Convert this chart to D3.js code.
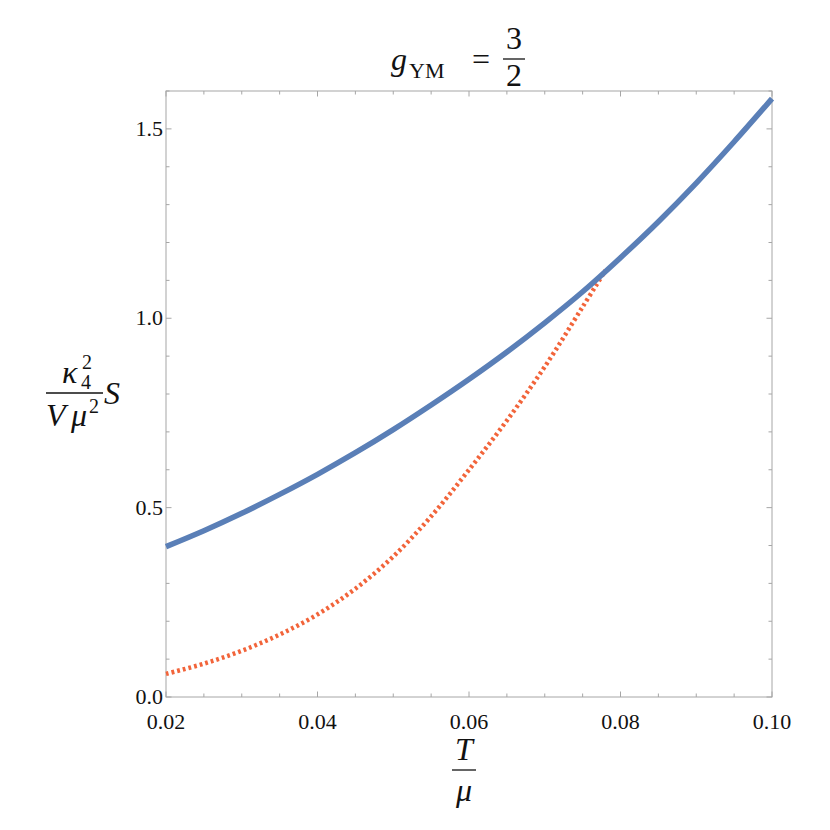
<!DOCTYPE html>
<html>
<head>
<meta charset="utf-8">
<script src="https://cdn.jsdelivr.net/npm/d3@7"></script>
<style>
  body { margin: 0; background: #fff; }
  svg text { font-family: "Liberation Serif", "Times New Roman", serif; fill: #111; }
</style>
</head>
<body>
<div class="chart-container"></div>
<script>
// T/mu values
const tBlue = [0.020, 0.025, 0.030, 0.035, 0.040, 0.045, 0.050, 0.055, 0.060,
               0.065, 0.070, 0.075, 0.080, 0.085, 0.090, 0.095, 0.100];
const sBlue = [0.397, 0.439, 0.485, 0.535, 0.588, 0.645, 0.706, 0.771, 0.839,
               0.911, 0.988, 1.070, 1.160, 1.255, 1.357, 1.466, 1.580];

const tOrange = [0.020, 0.025, 0.030, 0.035, 0.040, 0.045, 0.050, 0.055, 0.060,
                 0.065, 0.070, 0.075, 0.078];
const sOrange = [0.061, 0.088, 0.122, 0.165, 0.218, 0.286, 0.371, 0.477, 0.600,
                 0.730, 0.872, 1.030, 1.126];

const xTicks = [0.02, 0.04, 0.06, 0.08, 0.10];
const yTicks = [0.0, 0.5, 1.0, 1.5];

const width = 830, height = 830;
const pLeft = 166, pRight = 772, pTop = 91, pBottom = 697;

const svg = d3.select('.chart-container').append('svg')
    .attr('width', width)
    .attr('height', height);

const x = d3.scaleLinear().domain([0.02, 0.10]).range([pLeft, pRight]);
const y = d3.scaleLinear().domain([0, 1.6]).range([pBottom, pTop]);

const frameColor = '#a6a6a6';

// minor / major ticks, pointing inward on all four sides
const xMinor = d3.range(0.02, 0.1001, 0.005);
const yMinor = d3.range(0, 1.6001, 0.1);
const isMajor = (v, step) => Math.abs(v / step - Math.round(v / step)) < 1e-6;

const ticks = svg.append('g').attr('id', 'ticks')
    .attr('stroke', frameColor).attr('stroke-width', 1);

xMinor.forEach(v => {
  const len = isMajor(v, 0.02) ? 5.5 : 3.5;
  ticks.append('line').attr('x1', x(v)).attr('x2', x(v))
      .attr('y1', pBottom).attr('y2', pBottom - len);
  ticks.append('line').attr('x1', x(v)).attr('x2', x(v))
      .attr('y1', pTop).attr('y2', pTop + len);
});
yMinor.forEach(v => {
  const len = isMajor(v, 0.5) ? 5.5 : 3.5;
  ticks.append('line').attr('y1', y(v)).attr('y2', y(v))
      .attr('x1', pLeft).attr('x2', pLeft + len);
  ticks.append('line').attr('y1', y(v)).attr('y2', y(v))
      .attr('x1', pRight).attr('x2', pRight - len);
});

// frame
svg.append('rect')
    .attr('x', pLeft).attr('y', pTop)
    .attr('width', pRight - pLeft).attr('height', pBottom - pTop)
    .attr('fill', 'none').attr('stroke', frameColor).attr('stroke-width', 1);

// tick labels
svg.append('g').selectAll('text').data(xTicks).enter().append('text')
    .attr('x', d => x(d)).attr('y', pBottom + 32)
    .attr('text-anchor', 'middle').attr('font-size', 22)
    .text(d => d.toFixed(2));

svg.append('g').selectAll('text').data(yTicks).enter().append('text')
    .attr('x', pLeft - 3).attr('y', d => y(d) + 7)
    .attr('text-anchor', 'end').attr('font-size', 22)
    .text(d => d.toFixed(1));

// curves
const line = d3.line()
    .x(d => x(d[0])).y(d => y(d[1]))
    .curve(d3.curveCatmullRom.alpha(0.5));

const plot = svg.append('g').attr('id', 'curves');

plot.append('path')
    .datum(tOrange.map((t, i) => [t, sOrange[i]]))
    .attr('d', line)
    .attr('fill', 'none')
    .attr('stroke', '#f2643a')
    .attr('stroke-width', 4.5)
    .attr('stroke-dasharray', '2.8,3');

plot.append('path')
    .datum(tBlue.map((t, i) => [t, sBlue[i]]))
    .attr('d', line)
    .attr('fill', 'none')
    .attr('stroke', '#5a7fb7')
    .attr('stroke-width', 5.5);

// title  g_YM = 3/2
const title = svg.append('g').attr('font-size', 32);
title.append('text').attr('x', 391).attr('y', 70).attr('font-style', 'italic').text('g');
title.append('text').attr('x', 409).attr('y', 78).attr('font-size', 22).text('YM');
title.append('text').attr('x', 481).attr('y', 70).attr('text-anchor', 'middle').text('=');
title.append('text').attr('x', 514).attr('y', 49).attr('text-anchor', 'middle').text('3');
title.append('line').attr('x1', 503).attr('x2', 525).attr('y1', 59).attr('y2', 59)
    .attr('stroke', '#111').attr('stroke-width', 1.3);
title.append('text').attr('x', 514).attr('y', 86).attr('text-anchor', 'middle').text('2');

// y label  kappa_4^2 / (V mu^2) S
const yl = svg.append('g').attr('font-size', 32);
yl.append('text').attr('x', 62).attr('y', 383).attr('font-style', 'italic').text('κ');
yl.append('text').attr('x', 82).attr('y', 369).attr('font-size', 20).text('2');
yl.append('text').attr('x', 81).attr('y', 389).attr('font-size', 20).text('4');
yl.append('line').attr('x1', 46).attr('x2', 103).attr('y1', 393).attr('y2', 393)
    .attr('stroke', '#111').attr('stroke-width', 1.3);
yl.append('text').attr('x', 46).attr('y', 426).attr('font-style', 'italic').text('V');
yl.append('text').attr('x', 71).attr('y', 426).attr('font-style', 'italic').text('μ');
yl.append('text').attr('x', 89).attr('y', 413).attr('font-size', 20).text('2');
yl.append('text').attr('x', 104).attr('y', 404).attr('font-style', 'italic').text('S');

// x label  T / mu
const xl = svg.append('g').attr('font-size', 32);
xl.append('text').attr('x', 464).attr('y', 760).attr('text-anchor', 'middle')
    .attr('font-style', 'italic').text('T');
xl.append('line').attr('x1', 452).attr('x2', 476).attr('y1', 770).attr('y2', 770)
    .attr('stroke', '#111').attr('stroke-width', 1.3);
xl.append('text').attr('x', 464).attr('y', 801).attr('text-anchor', 'middle')
    .attr('font-style', 'italic').text('μ');
</script>
</body>
</html>
